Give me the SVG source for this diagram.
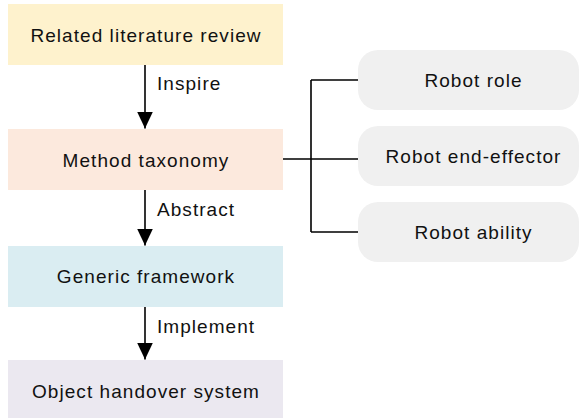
<svg xmlns="http://www.w3.org/2000/svg" width="579" height="418" viewBox="0 0 579 418">
<defs>
<style>
text{font-family:"Liberation Sans",Arial,sans-serif;font-size:19px;letter-spacing:1.05px;fill:#111;text-anchor:middle}
.lbl{text-anchor:start}
.cn{stroke:#000;stroke-width:1.6;fill:none}
.side{fill:#f0f0f0}
</style>
<marker id="ah" markerUnits="userSpaceOnUse" markerWidth="17" markerHeight="16" refX="17" refY="8" orient="auto">
<path d="M0,0 L17,8 L0,16 z" fill="#000"/>
</marker>
</defs>
<rect width="579" height="418" fill="#fff"/>
<g id="n1"><rect x="8" y="4" width="275" height="61" fill="#fef2cd"/><text x="146" y="41.5">Related literature review</text></g>
<g id="n2"><rect x="8" y="129" width="275" height="61" fill="#fce9dd"/><text x="146" y="166.5">Method taxonomy</text></g>
<g id="n3"><rect x="8" y="246" width="275" height="61" fill="#daedf2"/><text x="146" y="283">Generic framework</text></g>
<g id="n4"><rect x="8" y="360" width="275" height="61" fill="#ebe8f0"/><text x="146" y="398">Object handover system</text></g>
<g id="n5"><rect class="side" x="358" y="50" width="221" height="60" rx="20"/><text x="473.5" y="86.5">Robot role</text></g>
<g id="n6"><rect class="side" x="358" y="126" width="221" height="60" rx="20"/><text x="473.5" y="162.5">Robot end-effector</text></g>
<g id="n7"><rect class="side" x="358" y="202" width="221" height="60" rx="20"/><text x="473.5" y="238.5">Robot ability</text></g>
<g id="connectors">
<line class="cn" x1="145" y1="65" x2="145" y2="128.5" marker-end="url(#ah)"/>
<line class="cn" x1="145" y1="190" x2="145" y2="245.5" marker-end="url(#ah)"/>
<line class="cn" x1="145" y1="307" x2="145" y2="359.5" marker-end="url(#ah)"/>
<path class="cn" d="M283,159 H358 M311,80 V232 M311,80 H358 M311,232 H358"/>
<text class="lbl" x="157" y="90">Inspire</text>
<text class="lbl" x="157" y="216">Abstract</text>
<text class="lbl" x="157" y="332.5">Implement</text>
</g>
</svg>
